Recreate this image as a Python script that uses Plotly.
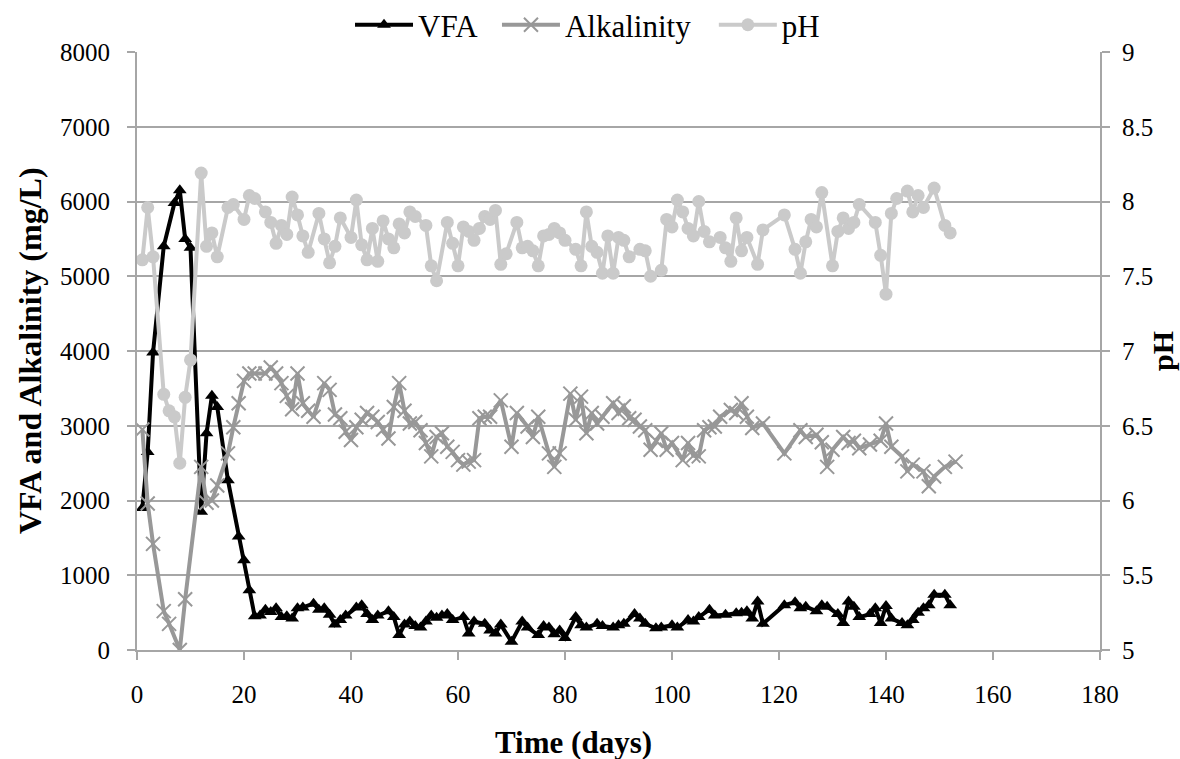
import plotly.graph_objects as go

vfa_days = [1,2,3,5,7,8,9,10,12,13,14,15,17,19,20,21,22,23,24,25,26,27,28,29,30,31,33,34,35,36,37,38,39,41,42,43,44,45,47,48,49,50,51,52,53,54,55,56,57,58,59,61,62,63,65,66,67,68,70,72,73,75,76,77,78,79,80,82,83,84,86,87,89,90,91,93,94,95,97,98,100,101,103,104,105,107,108,110,112,113,114,115,116,117,121,123,124,125,127,128,129,131,132,133,134,135,137,138,139,140,141,143,144,145,146,147,148,149,151,152]
vfa_vals = [1900,2650,3980,5400,5980,6150,5500,5380,1850,2900,3400,3250,2270,1520,1200,800,450,460,540,510,560,440,450,420,560,570,620,540,560,470,340,400,460,570,600,480,400,460,520,440,200,340,380,320,300,380,460,430,460,480,400,440,220,380,350,260,220,340,110,380,300,200,320,300,210,260,160,440,330,300,350,320,300,330,350,480,420,350,290,300,330,300,400,380,440,540,460,470,490,500,520,420,650,350,600,640,560,580,520,600,580,480,360,650,580,440,480,560,360,590,420,360,330,400,500,560,600,740,740,600]

alk_days = [1,2,3,5,6,8,9,12,13,14,15,17,18,19,20,21,22,24,25,26,27,28,29,30,31,32,33,35,36,37,38,39,40,41,42,43,44,45,46,47,48,49,50,51,52,53,54,55,56,57,58,59,60,61,62,63,64,65,66,68,70,71,73,74,75,77,78,79,81,82,83,84,85,86,87,89,90,91,92,93,94,95,96,97,98,99,100,102,103,104,105,106,107,108,109,111,112,113,114,115,117,121,124,125,127,128,129,130,132,133,134,135,137,139,140,141,143,144,145,147,148,149,151,153]
alk_vals = [2950,1960,1420,520,350,0,680,2450,1970,2000,2200,2630,2980,3300,3600,3700,3700,3700,3780,3700,3570,3400,3220,3700,3300,3200,3120,3570,3480,3150,3100,2920,2810,2980,3080,3170,3120,3050,2950,2830,3250,3570,3200,3030,3050,2940,2770,2590,2850,2900,2720,2650,2540,2480,2520,2540,3100,3120,3120,3340,2720,3170,2990,2850,3120,2630,2450,2630,3430,3080,3390,2900,3170,3030,3120,3300,3170,3260,3100,3080,2990,2940,2680,2800,2900,2680,2770,2540,2770,2600,2590,2940,2980,2990,3120,3210,3170,3300,3120,2970,3030,2630,2940,2850,2880,2780,2450,2680,2850,2770,2800,2700,2750,2800,3030,2720,2590,2390,2480,2390,2190,2320,2450,2520]

ph_days = [1,2,3,5,6,7,8,9,10,12,13,14,15,17,18,20,21,22,24,25,26,27,28,29,30,31,32,34,35,36,37,38,40,41,42,43,44,45,46,47,48,49,50,51,52,54,55,56,58,59,60,61,62,63,64,65,66,67,68,69,71,72,73,74,75,76,77,78,79,80,82,83,84,85,86,87,88,89,90,91,92,94,95,96,98,99,100,101,102,103,104,105,106,107,109,110,111,112,113,114,116,117,121,123,124,125,126,127,128,130,131,132,133,134,135,138,139,140,141,142,144,145,146,147,149,151,152]
ph_vals = [7.61,7.96,7.63,6.71,6.6,6.56,6.25,6.69,6.94,8.19,7.7,7.79,7.63,7.96,7.98,7.88,8.04,8.02,7.93,7.86,7.72,7.84,7.78,8.03,7.91,7.77,7.66,7.92,7.75,7.59,7.7,7.89,7.76,8.01,7.71,7.61,7.82,7.6,7.87,7.75,7.69,7.85,7.79,7.93,7.9,7.84,7.57,7.47,7.86,7.72,7.57,7.83,7.8,7.74,7.82,7.9,7.88,7.94,7.58,7.65,7.86,7.69,7.7,7.67,7.57,7.77,7.78,7.82,7.79,7.74,7.68,7.57,7.93,7.7,7.66,7.52,7.77,7.52,7.76,7.74,7.63,7.68,7.67,7.5,7.54,7.88,7.83,8.01,7.93,7.82,7.77,8.0,7.8,7.73,7.76,7.69,7.6,7.89,7.67,7.76,7.58,7.81,7.91,7.68,7.52,7.73,7.88,7.83,8.06,7.57,7.8,7.89,7.82,7.86,7.98,7.86,7.64,7.38,7.92,8.02,8.07,7.93,8.04,7.96,8.09,7.84,7.79]

x_ticks = [0,20,40,60,80,100,120,140,160,180]
y_ticks = [0,1000,2000,3000,4000,5000,6000,7000,8000]
ph_ticks = [5,5.5,6,6.5,7,7.5,8,8.5,9]
ph_labels = ["5","5.5","6","6.5","7","7.5","8","8.5","9"]

FONT = "Liberation Serif, Times New Roman, serif"
GRID = "#a6a6a6"
TICKFONT = dict(family=FONT, size=25, color="#000000")

fig = go.Figure()
fig.add_trace(go.Scatter(x=vfa_days, y=vfa_vals, name="VFA", mode="lines+markers", legend="legend",
                         line=dict(color="#000000", width=4),
                         marker=dict(symbol="triangle-up", size=12, color="#000000")))
fig.add_trace(go.Scatter(x=alk_days, y=alk_vals, name="Alkalinity", mode="lines+markers", legend="legend2",
                         line=dict(color="#989898", width=4),
                         marker=dict(symbol="x-thin", size=14, color="#989898",
                                     line=dict(color="#989898", width=2))))
fig.add_trace(go.Scatter(x=ph_days, y=ph_vals, name="pH", mode="lines+markers", yaxis="y2", legend="legend3",
                         line=dict(color="#cacaca", width=4),
                         marker=dict(symbol="circle", size=13, color="#cacaca")))

axis_common = dict(zeroline=False, showline=True, linecolor=GRID, linewidth=2,
                   ticks="outside", ticklen=8, tickcolor=GRID, tickwidth=2,
                   tickfont=TICKFONT, automargin=False)

def leg(xpos):
    return dict(orientation="h", x=xpos, xanchor="left", y=1.045, yanchor="middle",
                bgcolor="rgba(255,255,255,0)", font=dict(family=FONT, size=31, color="#000000"),
                itemwidth=58)

fig.update_layout(
    width=1180, height=759,
    margin=dict(l=137, r=80, t=52, b=109, autoexpand=False),
    paper_bgcolor="white", plot_bgcolor="white",
    font=dict(family=FONT, size=25, color="#000000"),
    showlegend=True,
    legend=leg(0.2212),
    legend2=leg(0.3738),
    legend3=leg(0.599),
    xaxis=dict(range=[0, 180], tickvals=x_ticks, showgrid=False, ticklabelstandoff=13,
               **axis_common),
    yaxis=dict(range=[0, 8000], tickvals=y_ticks, showgrid=True, gridcolor=GRID, gridwidth=2,
               ticklabelstandoff=12, **axis_common),
    yaxis2=dict(range=[5, 9], tickvals=ph_ticks, ticktext=ph_labels, overlaying="y", side="right",
                showgrid=False, ticklabelstandoff=7, **axis_common),
    annotations=[
        dict(text="<b>Time (days)</b>", xref="paper", yref="paper", x=0.453, y=0,
             xanchor="center", yanchor="middle", yshift=-92, showarrow=False,
             font=dict(family=FONT, size=31, color="#000000")),
        dict(text="<b>VFA and Alkalinity (mg/L)</b>", xref="paper", yref="paper", x=0, y=0.5,
             xanchor="center", yanchor="middle", xshift=-107, textangle=-90, showarrow=False,
             font=dict(family=FONT, size=32, color="#000000")),
        dict(text="<b>pH</b>", xref="paper", yref="paper", x=1, y=0.5,
             xanchor="center", yanchor="middle", xshift=62, textangle=-90, showarrow=False,
             font=dict(family=FONT, size=30, color="#000000")),
    ],
)

fig.write_html("out.html", config={"displayModeBar": False},
               post_script="document.body.style.margin='0';")
